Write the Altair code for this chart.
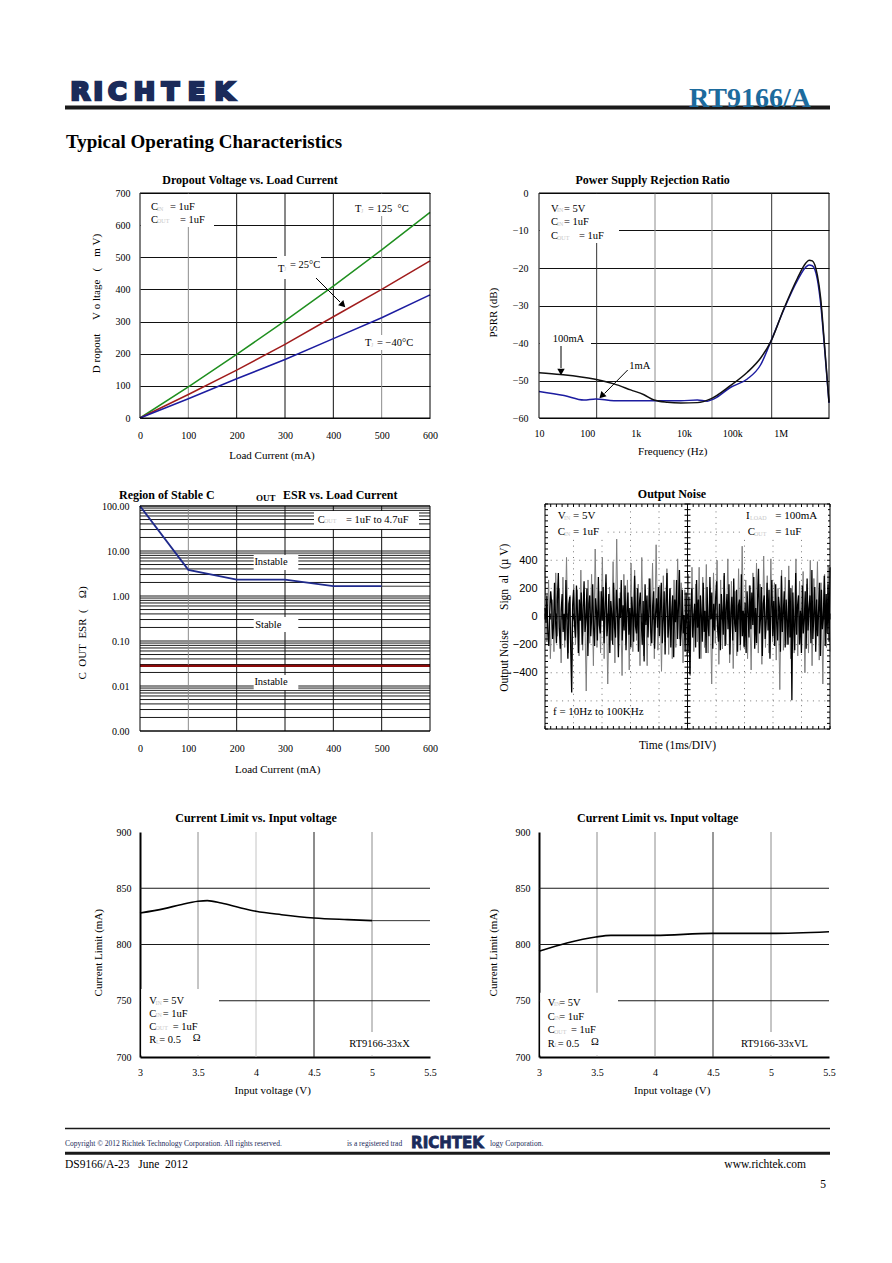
import altair as alt
import pandas as pd

SERIF = "Liberation Serif"
SANS = "Liberation Sans"
LOGO_FONT = "DejaVu Sans"
NAVY = "#1b2b5a"
TEAL = "#1c6b9d"
SUBC = "#c8c8c8"
GRAY = "#8c8c8c"
DARK = "#111111"
W, H = 290, 225

# ---------------- data ----------------
# Dropout voltage vs load current
load_mA = [0, 100, 200, 300, 400, 500, 600]
dropout_125C = [0, 97, 198, 302, 410, 523, 640]
dropout_25C = [0, 73, 149, 229, 315, 400, 489]
dropout_m40C = [0, 60, 122, 182, 247, 312, 383]

# PSRR
psrr_f_100mA = [10, 28, 137, 356, 788, 1487, 2395, 4520, 8530, 18880, 35650, 92470,
                204200, 385500, 620900, 1.17e6, 2.21e6, 3.29e6, 3.86e6, 4.52e6,
                5.74e6, 6.73e6, 7.88e6, 1e7]
psrr_db_100mA = [-47.9, -48.4, -49.6, -50.9, -52.5, -53.8, -55.2, -55.8, -56.0, -55.9,
                 -54.9, -51.3, -47.8, -44.0, -39.7, -30.8, -22.8, -18.75, -17.9, -18.1,
                 -21.9, -28.1, -38.8, -55.8]
psrr_f_1mA = [10, 33, 85, 149, 356, 1742, 8530, 18880, 30400, 41800, 92470, 204200,
              385500, 620900, 1.17e6, 2.21e6, 3.29e6, 3.86e6, 4.52e6, 5.74e6, 6.73e6,
              7.88e6, 1e7]
psrr_db_1mA = [-52.9, -54.0, -55.2, -54.9, -55.4, -55.4, -55.4, -55.2, -55.5, -54.9,
               -51.8, -49.6, -45.8, -39.7, -31.0, -23.4, -19.8, -19.2, -19.4, -23.0,
               -29.5, -39.5, -56.0]
psrr_grid_dark = [156, 651600]
psrr_grid_gray = [2512, 37930]

# ESR stability region
esr_load = [0, 100, 200, 300, 400, 500]
esr_upper = [100, 3.8, 2.3, 2.3, 1.65, 1.65]
esr_ext_load = [500, 600]
esr_ext = [1.65, 1.65]
esr_low_load = [0, 600]
esr_lower = [0.028, 0.028]

# Output noise (uV), time in divisions
noise_gray = [
    350, -180, 260, -300, 120, -250, 310, -140, 200, -330, 280, -220, 420, -260, 150, -310, 230, -200, 190, -280,
    330, -240, 160, -530, 260, -190, 300, -350, 480, -220, 180, -260, 420, -300, 240, -480, 210, -170, 390, -330,
    550, -260, 170, -420, 300, -200, 260, -380, 380, -250, 330, -170, 230, -350, 420, -280, 190, -350, 270, -210,
    380, -300, 510, -240, 220, -390, 290, -180, 340, -270, 200, -300, 260, -220, 410, -160, 240, -330, 190, -280,
    300, -420, 350, -250, 230, -180, 350, -300, 280, -220, 370, -260, 200, -480, 310, -190, 400, -340, 260, -230,
    290, -200, 410, -330, 250, -370, 180, -280, 340, -240, 500, -210, 260, -300, 220, -380, 310, -190, 380, -260,
    230, -340, 430, -220, 290, -260, 410, -180, 240, -310, 200, -520, 330, -240, 280, -200, 360, -300, 220, -260,
    410, -280, 250, -190, 320, -400, 230, -260, 400, -350, 270, -200, 390, -310, 240, -480, 300, -220, 360, -250,
]
noise_black = [
    60, -40, 150, -120, -210, 30, 180, 90, -160, -60, 240, -20, -190, 120, 310, -80, -230, 40, 160, -110, 20, -170, 260, -50, -300, 90, 140, -240, -540, 80,
    190, -60, -150, 220, 40, -260, 120, -30, 170, -200, 60, 250, -110, -20, 200, -280, 90, 150, -140, 10, 230, -90, -210, 130, 40, -170, 280, -60, -120, 180,
    -30, 210, -190, 70, 300, -140, -40, 160, -260, 110, 20, -200, 240, -80, -150, 190, 50, -290, 130, -10, 260, -170, 80, -100, 220, -240, 30, 170, -130, 60,
    -220, 140, 10, -180, 290, -70, -120, 200, -250, 90, 170, -30, -200, 110, -320, 230, -60, 150, -150, 40, 270, -110, -190, 80, 180, -230, 20, 130, -80, 210,
    -140, 50, 240, -190, -30, 180, -270, 100, 310, -150, -60, 200, -220, 30, 150, -290, 120, -40, 260, -160, 70, 330, -210, -90, 190, -120, 10, -250, 170, -60,
    -260, 140, -410, 60, 200, -150, -20, 90, -220, 260, -80, 120, -300, 150, 10, -180, 240, -110, 40, -260, 210, -60, -140, 280, -20, 170, -230, 90, -100, 130,
    250, -80, -180, 90, -240, 160, 30, -130, 310, -210, 50, 160, -90, 230, -270, 20, 140, -170, 270, -50, -110, 190, -250, 80, 120, -200, 300, -140, 40, -220,
    100, -260, 180, 30, -150, 220, -90, 170, -60, 280, -230, 60, -190, 130, 340, -120, -20, 210, -280, 90, 150, -160, -40, 240, -100, 190, -300, 70, 260, -140,
    110, -210, 230, -40, -170, 140, 60, -250, 290, -110, 20, 180, -220, 120, -30, -200, 260, -150, 200, -595, 170, -60, -240, 310, -130, 80, 150, -200, 40, -260,
    220, -120, -30, 180, -230, 270, -100, 60, 150, -190, 330, -160, 10, 210, -250, 120, -140, 40, 240, -280, 190, -90, -20, 290, -210, 160, -120, 230, -180, 350,
]

# Current limit vs input voltage
vin_X = [3.0, 3.21, 3.35, 3.5, 3.58, 3.7, 3.87, 4.0, 4.22, 4.5, 4.79, 5.0]
ilim_X = [828.0, 831.9, 835.4, 838.4, 839.0, 836.9, 832.4, 829.5, 826.5, 823.6, 822.1, 821.2]
vin_X_ext = [5.0, 5.5]
ilim_X_ext = [821.2, 821.2]
vin_VL = [3.0, 3.24, 3.49, 3.62, 4.0, 4.49, 5.0, 5.5]
ilim_VL = [793.9, 801.3, 806.7, 808.1, 808.1, 809.9, 809.9, 811.4]
cl_grid_h = [750, 800, 850]

# ---------------- helpers ----------------
ONE = pd.DataFrame({"k": [0]})
NB = "\u00a0"


def txt(s, x, y, size=10.5, color="black", bold=False, align="left", angle=0,
        baseline="middle", font=SERIF, stroke_w=0):
    props = dict(text=s.replace(" ", NB), fontSize=size, color=color, align=align,
                 baseline=baseline, font=font)
    if bold:
        props["fontWeight"] = "bold"
    if angle:
        props["angle"] = angle
    if stroke_w:
        props["stroke"] = color
        props["strokeWidth"] = stroke_w
    return alt.Chart(ONE).mark_text(**props).encode(x=alt.value(x), y=alt.value(y))


def sub(s, x, y):
    return txt(s, x, y + 1.5, size=6, color=SUBC)


def box(x1, x2, y1, y2):
    return alt.Chart(ONE).mark_rect(color="white").encode(
        x=alt.value(x1), x2=alt.value(x2), y=alt.value(y1), y2=alt.value(y2))


def seg(x1, y1, x2, y2, color="black", width=1.0):
    return alt.Chart(ONE).mark_rule(color=color, strokeWidth=width).encode(
        x=alt.value(x1), x2=alt.value(x2), y=alt.value(y1), y2=alt.value(y2))


def head(x, y, angle, size=55):
    return alt.Chart(ONE).mark_point(shape="triangle-up", filled=True, color="black",
                                     size=size, angle=angle, opacity=1).encode(
        x=alt.value(x), y=alt.value(y))


def frame(w, h):
    return alt.Chart(ONE).mark_rect(fillOpacity=0, stroke="black", strokeWidth=1).encode(
        x=alt.value(0), x2=alt.value(w), y=alt.value(0), y2=alt.value(h))


def ax(values, pad, fmt=None, grid=False, domain=False, label_expr=None, font=SERIF,
       size=10, domain_width=1):
    kw = dict(values=values, title=None, tickSize=0, labelPadding=pad, grid=grid,
              domain=domain, labelFont=font, labelFontSize=size, labelColor="black",
              labelFlush=False, labelOverlap=False)
    if grid:
        kw["gridColor"] = DARK
        kw["gridWidth"] = 1
        kw["gridOpacity"] = 1
    if fmt:
        kw["format"] = fmt
    if label_expr:
        kw["labelExpr"] = label_expr
    if domain:
        kw["domainColor"] = "black"
        kw["domainWidth"] = domain_width
    return alt.Axis(**kw)


def vrules(values, X, color):
    return alt.Chart(pd.DataFrame({"g": values})).mark_rule(color=color, strokeWidth=1).encode(
        x=X("g"))


# ---------------- chart 1: dropout ----------------
xs1 = alt.Scale(domain=[0, 600], nice=False)
ys1 = alt.Scale(domain=[0, 700], nice=False)
ax1x = ax(list(range(0, 601, 100)), 12)
ax1y = ax(list(range(0, 701, 100)), 10, grid=True)
X1 = lambda f: alt.X(f"{f}:Q", scale=xs1, axis=ax1x)
Y1 = lambda f: alt.Y(f"{f}:Q", scale=ys1, axis=ax1y)


def line1(vals, color):
    return alt.Chart(pd.DataFrame({"I": load_mA, "V": vals})).mark_line(
        strokeWidth=1.5, color=color).encode(x=X1("I"), y=Y1("V"))


header = [
    seg(-131, -184, -130, -184, color="white"),
    seg(-75, -85.5, 690, -85.5, color="#1a1a1a", width=4),
]
for ch, cx in zip("RICHTEK", [-59.6, -41.8, -22.7, 4.5, 30.4, 56.4, 84.4]):
    header.append(txt(ch, cx, -93.5, size=25.5, color=NAVY, bold=True, align="center",
                      baseline="alphabetic", font=LOGO_FONT, stroke_w=2.7))
header += [
    txt("RT9166/A", 549, -86.5, size=28, color=TEAL, bold=True, baseline="alphabetic"),
    txt("Typical Operating Characteristics", -74, -45.5, size=19, bold=True, baseline="alphabetic"),
]
c1 = alt.layer(
    vrules([100, 500], X1, GRAY), vrules([200, 300, 400], X1, DARK),
    box(1, 74, 1, 34), box(208, 274, 1, 23), box(137, 181, 63, 86), box(221, 279, 142, 157),
    line1(dropout_125C, "#1f8f1f"), line1(dropout_25C, "#a01c1c"), line1(dropout_m40C, "#1c1ca0"),
    txt("C", 11, 14), sub("IN", 17, 14), txt("= 1uF", 30, 14),
    txt("C", 11, 26.5), sub("OUT", 17, 26.5), txt("= 1uF", 40, 26.5),
    txt("T", 215, 16), sub("J", 221, 16), txt("= 125  °C", 228, 16),
    txt("T", 138, 76), sub("J", 144, 74), txt("= 25°C", 150, 72),
    seg(176, 85, 200, 109), head(203, 112, 135),
    txt("T", 225, 150), sub("J", 231, 150), txt("= −40°C", 237, 150),
    txt("Dropout Voltage vs. Load Current", 110, -13, size=12, bold=True, align="center"),
    txt("Load Current (mA)", 132, 263, size=11, align="center"),
    txt("D ropout     V o ltage   (    m V)", -43, 110.5, size=11, align="center", angle=270),
    frame(W, H),
    *header,
).properties(width=W, height=H)

# ---------------- chart 2: PSRR ----------------
xs2 = alt.Scale(type="log", domain=[10, 1e7], nice=False)
ys2 = alt.Scale(domain=[-60, 0], nice=False)
psrr_labels = ("datum.value >= 999999 ? '1M' : datum.value >= 99999 ? '100k' : "
               "datum.value >= 9999 ? '10k' : datum.value >= 999 ? '1k' : "
               "datum.value >= 99 ? '100' : '10'")
ax2x = ax([10, 100, 1000, 1e4, 1e5, 1e6], 10, label_expr=psrr_labels)
ax2y = ax(list(range(-60, 1, 10)), 11, grid=True)
X2 = lambda f: alt.X(f"{f}:Q", scale=xs2, axis=ax2x)
Y2 = lambda f: alt.Y(f"{f}:Q", scale=ys2, axis=ax2y)


def line2(fs, dbs, color):
    return alt.Chart(pd.DataFrame({"f": fs, "db": dbs})).mark_line(
        strokeWidth=1.5, color=color, interpolate="monotone").encode(x=X2("f"), y=Y2("db"))


c2 = alt.layer(
    vrules(psrr_grid_dark, X2, "#333333"), vrules(psrr_grid_gray, X2, GRAY),
    box(1, 80, 1, 50), box(1, 52, 140, 153),
    line2(psrr_f_1mA, psrr_db_1mA, "#1c1ca0"),
    line2(psrr_f_100mA, psrr_db_100mA, "#111111"),
    txt("V", 12, 15.7), sub("IN", 18, 15.7), txt("= 5V", 25, 15.7),
    txt("C", 12, 29.3), sub("IN", 18, 29.3), txt("= 1uF", 25, 29.3),
    txt("C", 12, 43), sub("OUT", 18, 43), txt("= 1uF", 40, 43),
    txt("100mA", 13.7, 146.3),
    seg(22, 153, 22, 175), head(22, 179, 180),
    txt("1mA", 90.3, 173),
    seg(88.7, 177, 65.5, 200.5), head(62.7, 203, 225),
    txt("Power Supply Rejection Ratio", 113.7, -13, size=12, bold=True, align="center"),
    txt("Frequency (Hz)", 133.7, 259, size=11, align="center"),
    txt("PSRR (dB)", -45, 119.7, size=11, align="center", angle=270),
    frame(W, H),
).properties(width=W, height=H)

# ---------------- chart 3: ESR ----------------
xs3 = alt.Scale(domain=[0, 600], nice=False)
ys3 = alt.Scale(type="log", domain=[0.001, 100], nice=False)
ax3x = ax(list(range(0, 601, 100)), 12)
ax3y = ax([0.001, 0.01, 0.1, 1, 10, 100], 11, fmt=".2f")
X3 = lambda f: alt.X(f"{f}:Q", scale=xs3, axis=ax3x)
Y3 = lambda f: alt.Y(f"{f}:Q", scale=ys3, axis=ax3y)
esr_grid = [m * 10.0 ** e for e in range(-3, 2) for m in range(1, 10)] + [100]
hgrid3 = alt.Chart(pd.DataFrame({"g": esr_grid})).mark_rule(color="#1a1a1a", strokeWidth=1).encode(
    y=Y3("g"))


def line3(xs, ys, color, width):
    return alt.Chart(pd.DataFrame({"I": xs, "E": ys})).mark_line(
        color=color, strokeWidth=width).encode(x=X3("I"), y=Y3("E"))


c3 = alt.layer(
    hgrid3, vrules([100], X3, GRAY), vrules([200, 300, 400, 500], X3, DARK),
    box(113.7, 158.3, 49, 64), box(113.7, 158.3, 111, 126), box(113.7, 158.3, 169, 184),
    box(174, 279, 5, 23),
    line3(esr_load, esr_upper, "#1f2a8c", 1.8),
    line3(esr_ext_load, esr_ext, "#333333", 1),
    line3(esr_low_load, esr_lower, "#8b0a0a", 2.2),
    txt("Instable", 131, 56.3, align="center"),
    txt("Stable", 128.3, 118.7, align="center"),
    txt("Instable", 131, 176.3, align="center"),
    txt("C", 177.7, 13.7), sub("OUT", 184, 13.7), txt("= 1uF to 4.7uF", 206, 13.7),
    txt("Region of Stable C", -21, -11, size=12, bold=True),
    txt("OUT", 116, -8, size=9, bold=True),
    txt("ESR vs. Load Current", 143, -11, size=12, bold=True),
    txt("Load Current (mA)", 137.7, 264.3, size=11, align="center"),
    txt("C  OUT  ESR  (    Ω)", -57, 127, size=11, align="center", angle=270),
    frame(W, H),
).properties(width=W, height=H)

# ---------------- chart 4: output noise ----------------
xs4 = alt.Scale(domain=[0, 10], range=[6, 291], nice=False)
ys4 = alt.Scale(domain=[-800, 800], range=[223, -2], nice=False)
ax4x = alt.Axis(values=[0], labels=False, ticks=False, domain=False, grid=False, title=None)
ax4y = ax([-400, -200, 0, 200, 400], 2, font=SANS, size=11)
X4 = lambda f: alt.X(f"{f}:Q", scale=xs4, axis=ax4x)
Y4 = lambda f: alt.Y(f"{f}:Q", scale=ys4, axis=ax4y)
tick_t = [round(i * 0.2, 2) for i in range(51)]
tick_v = [-800 + 40 * i for i in range(41)]
tv = 3 * 1600 / 225   # 3 px in uV
th = 3 * 10 / 285     # 3 px in divisions
vt_df = pd.DataFrame(
    [{"t": t, "a": 800, "b": 800 - tv} for t in tick_t]
    + [{"t": t, "a": -800, "b": -800 + tv} for t in tick_t]
    + [{"t": t, "a": -tv, "b": tv} for t in tick_t])
ht_df = pd.DataFrame(
    [{"v": v, "a": 0, "b": th} for v in tick_v]
    + [{"v": v, "a": 10, "b": 10 - th} for v in tick_v]
    + [{"v": v, "a": 5 - th, "b": 5 + th} for v in tick_v])
vg_df = pd.DataFrame({"t": [1, 2, 3, 4, 6, 7, 8, 9], "a": [-800] * 8, "b": [800] * 8})
hg_df = pd.DataFrame({"v": [-600, -400, -200, 200, 400, 600], "a": [0] * 6, "b": [10] * 6})
vc_df = pd.DataFrame({"t": [5], "a": [-800], "b": [800]})
hc_df = pd.DataFrame({"v": [0], "a": [0], "b": [10]})
fr_df = pd.DataFrame({"x0": [0], "x1": [10], "y0": [-800], "y1": [800]})
dot = dict(color="#777777", strokeDash=[1, 4.7], strokeWidth=1)


def v4(df, **mk):
    return alt.Chart(df).mark_rule(**mk).encode(x=X4("t"), y=Y4("a"), y2="b:Q")


def h4(df, **mk):
    return alt.Chart(df).mark_rule(**mk).encode(y=Y4("v"), x=X4("a"), x2="b:Q")


dfg = pd.DataFrame({"t": [i * 10 / (len(noise_gray) - 1) for i in range(len(noise_gray))],
                    "u": noise_gray})
dfb = pd.DataFrame({"t": [i * 10 / (len(noise_black) - 1) for i in range(len(noise_black))],
                    "u": noise_black})
gray4 = alt.Chart(dfg).mark_line(color="#7f7f7f", strokeWidth=1).encode(x=X4("t"), y=Y4("u"))
black4 = alt.Chart(dfb).mark_line(color="#000000", strokeWidth=1.3).encode(x=X4("t"), y=Y4("u"))
frame4 = alt.Chart(fr_df).mark_rect(fillOpacity=0, stroke="black", strokeWidth=1).encode(
    x=X4("x0"), x2="x1:Q", y=Y4("y0"), y2="y1:Q")
c4 = alt.layer(
    v4(vg_df, **dot), h4(hg_df, **dot),
    v4(vc_df, color="black", strokeWidth=1), h4(hc_df, color="black", strokeWidth=1),
    gray4, black4,
    v4(vt_df, color="black", strokeWidth=1), h4(ht_df, color="black", strokeWidth=1),
    box(10, 65, 2, 32), box(203, 289, 2, 32),
    txt("V", 18.7, 10.3, size=11), sub("IN", 25, 10.3), txt("= 5V", 34, 10.3, size=11),
    txt("C", 18.7, 26.3, size=11), sub("IN", 25, 26.3), txt("= 1uF", 34, 26.3, size=11),
    txt("I", 207, 10.3, size=11), sub("LOAD", 211, 10.3), txt("= 100mA", 236.3, 10.3, size=11),
    txt("C", 208.7, 26.3, size=11), sub("OUT", 215, 26.3), txt("= 1uF", 236.3, 26.3, size=11),
    txt("f = 10Hz to 100KHz", 14, 206.3, size=11),
    frame4,
    txt("Output Noise", 133, -12.3, size=12, bold=True, align="center"),
    txt("Time (1ms/DIV)", 138.5, 240, size=11.5, align="center"),
    txt("Output Noise       Sign  al  (µ V)", -34, 111.7, size=11.5, align="center", angle=270),
).properties(width=291, height=H)

# ---------------- charts 5/6: current limit ----------------
H3 = 238
xs5 = alt.Scale(domain=[3, 5.5], nice=False)
ys5 = alt.Scale(domain=[700, 900], range=[H3, 13], nice=False)
ax5x = ax([3, 3.5, 4, 4.5, 5, 5.5], 10, fmt="~g", domain=True, domain_width=2)
ax5y = ax([700, 750, 800, 850, 900], 9, domain=True, domain_width=2)
X5 = lambda f: alt.X(f"{f}:Q", scale=xs5, axis=ax5x)
Y5 = lambda f: alt.Y(f"{f}:Q", scale=ys5, axis=ax5y)


def vgrid5(values, color):
    df = pd.DataFrame({"v": values, "a": [700] * len(values), "b": [900] * len(values)})
    return alt.Chart(df).mark_rule(color=color, strokeWidth=1).encode(
        x=X5("v"), y=Y5("a"), y2="b:Q")


def climit(vin, ilim, ext, grids, boxes, texts, title_x, xt_x, yt_x, extra=()):
    hg = alt.Chart(pd.DataFrame({"h": cl_grid_h})).mark_rule(color="#1a1a1a", strokeWidth=1).encode(
        y=Y5("h"))
    main = alt.Chart(pd.DataFrame({"V": vin, "I": ilim})).mark_line(
        color="black", strokeWidth=1.6, interpolate="monotone").encode(x=X5("V"), y=Y5("I"))
    layers = [*grids, hg, *boxes, main]
    if ext is not None:
        layers.append(alt.Chart(pd.DataFrame({"V": ext[0], "I": ext[1]})).mark_line(
            color="#333333", strokeWidth=1).encode(x=X5("V"), y=Y5("I")))
    layers += texts
    layers += [
        txt("Current Limit vs. Input voltage", title_x, -1.3, size=12, bold=True, align="center"),
        txt("Input voltage (V)", xt_x, 272, size=11, align="center"),
        txt("Current Limit (mA)", yt_x, 133.7, size=11, align="center", angle=270),
    ]
    layers += list(extra)
    return alt.layer(*layers).properties(width=W, height=H3)


footer = [
    seg(-75, 309.5, 690, 309.5, color="#1a1a1a", width=1.6),
    txt("Copyright © 2012 Richtek Technology Corporation. All rights reserved.", -75, 327,
        size=7.5, color=NAVY, baseline="alphabetic"),
    txt("is a registered trad", 207, 327, size=7.5, color=NAVY, baseline="alphabetic"),
    txt("RICHTEK", 307.5, 328.5, size=15, color=NAVY, bold=True, align="center",
        baseline="alphabetic", font=LOGO_FONT, stroke_w=0.8),
    txt("logy Corporation.", 350, 327, size=7.5, color=NAVY, baseline="alphabetic"),
    seg(-75, 334.2, 690, 334.2, color="#1a1a1a", width=3),
    txt("DS9166/A-23   June  2012", -75, 349, size=11.5, baseline="alphabetic"),
    txt("www.richtek.com", 666, 349, size=11.5, align="right", baseline="alphabetic"),
    txt("5", 683, 369, size=11.5, align="center", baseline="alphabetic"),
]

c5 = climit(
    vin_X, ilim_X, (vin_X_ext, ilim_X_ext),
    [vgrid5([3.5, 5.0], GRAY), vgrid5([4.0], "#c4c4c4"), vgrid5([4.5], "#1a1a1a")],
    [box(1.2, 79, 170, 236.5), box(201, 281, 213, 236.5)],
    [txt("V", 9.3, 182), sub("IN", 15.5, 182), txt("= 5V", 22.7, 182),
     txt("C", 9.3, 194.7), sub("IN", 15.5, 194.7), txt("= 1uF", 22.7, 194.7),
     txt("C", 9.3, 207.7), sub("OUT", 15.5, 207.7), txt("= 1uF", 32.7, 207.7),
     txt("R", 9.3, 221), sub("L", 16, 221), txt("= 0.5", 19.3, 221), txt("Ω", 52.7, 219),
     txt("RT9166-33xX", 209.3, 224.7)],
    116, 132.7, -40.7, extra=footer)

c6 = climit(
    vin_VL, ilim_VL, None,
    [vgrid5([3.5, 4.0, 5.0], GRAY), vgrid5([4.5], "#333333")],
    [box(1.2, 79, 173.7, 236.5), box(197, 270, 213, 236.5)],
    [txt("V", 8.7, 183.7), sub("IN", 15, 183.7), txt("= 5V", 20.3, 183.7),
     txt("C", 8.7, 197.7), sub("IN", 15, 197.7), txt("= 1uF", 20.3, 197.7),
     txt("C", 8.7, 211.3), sub("OUT", 15, 211.3), txt("= 1uF", 32, 211.3),
     txt("R", 8.7, 224.7), sub("L", 15.5, 224.7), txt("= 0.5", 18.7, 224.7), txt("Ω", 52, 222.7),
     txt("RT9166-33xVL", 202, 225.3)],
    118.7, 133.3, -44.7)

chart = alt.concat(
    c1, c2, c3, c4, c5, c6, columns=2, spacing={"row": 88, "column": 109}, bounds="flush"
).properties(padding=0, background="white").configure_view(strokeWidth=0)

chart.save("out.html", embed_options={"renderer": "svg", "actions": False})
